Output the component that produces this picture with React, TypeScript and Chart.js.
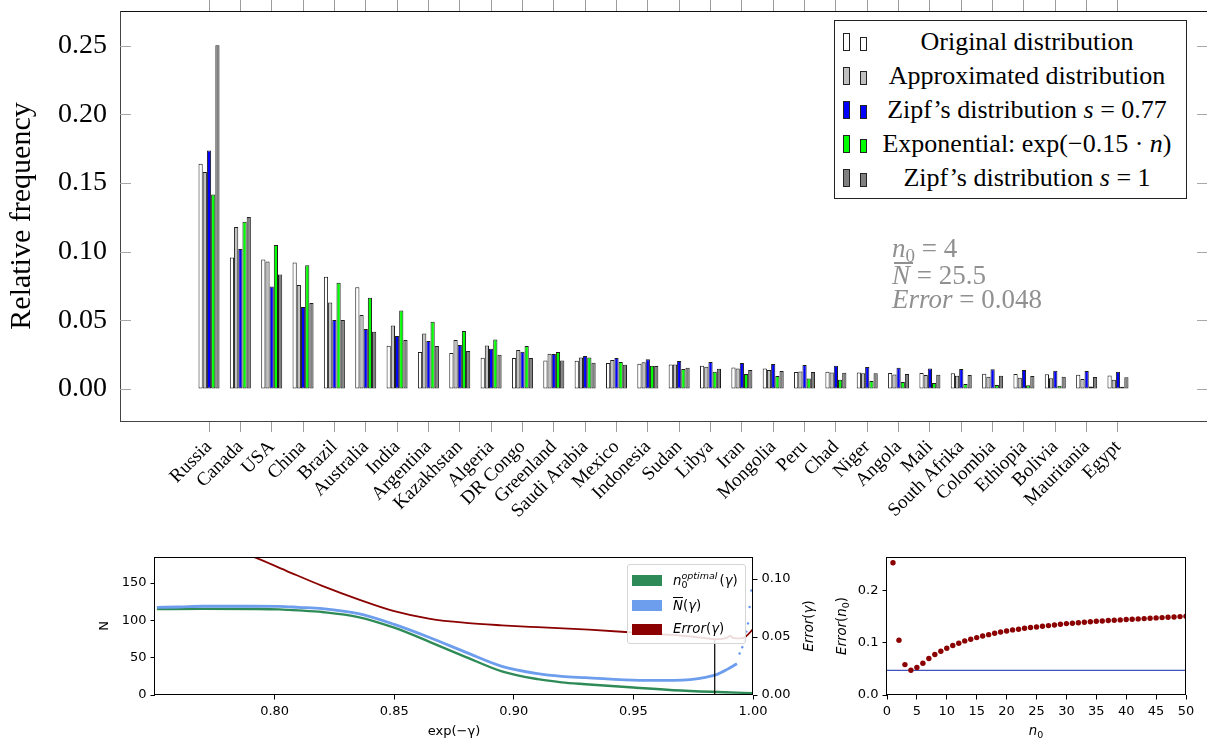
import React, { useEffect, useRef } from "react";
import { Chart, registerables } from "chart.js";

Chart.register(...registerables);

// ---------------- data: top bar chart ----------------
const countries = [
  "Russia", "Canada", "USA", "China", "Brazil", "Australia", "India", "Argentina",
  "Kazakhstan", "Algeria", "DR Congo", "Greenland", "Saudi Arabia", "Mexico",
  "Indonesia", "Sudan", "Libya", "Iran", "Mongolia", "Peru", "Chad", "Niger",
  "Angola", "Mali", "South Afrika", "Colombia", "Ethiopia", "Bolivia", "Mauritania", "Egypt",
];
const originalDist = [
  0.164, 0.0958, 0.0943, 0.0921, 0.0817, 0.0742, 0.0315, 0.0269, 0.0262, 0.0228,
  0.0226, 0.0208, 0.0206, 0.0189, 0.0184, 0.0179, 0.017, 0.0157, 0.015, 0.0124,
  0.0126, 0.0121, 0.0116, 0.0116, 0.0114, 0.0112, 0.011, 0.0107, 0.0104, 0.0099,
];
const approxDist = [
  0.158, 0.118, 0.0929, 0.0757, 0.063, 0.0539, 0.0463, 0.0405, 0.0357, 0.0317,
  0.0284, 0.0257, 0.023, 0.0211, 0.0194, 0.0179, 0.0162, 0.015, 0.0138, 0.0128,
  0.0121, 0.0114, 0.0106, 0.0102, 0.0097, 0.009, 0.0082, 0.0078, 0.0073, 0.0068,
];
const zipf077 = [
  0.1737, 0.1019, 0.0747, 0.0597, 0.0502, 0.0437, 0.0386, 0.0349, 0.032, 0.0293,
  0.0271, 0.0255, 0.024, 0.0226, 0.0216, 0.0204, 0.0196, 0.0189, 0.0182, 0.0175,
  0.017, 0.016, 0.0155, 0.015, 0.0146, 0.0143, 0.0138, 0.0133, 0.0131, 0.0126,
];
const expDist = [
  0.1417, 0.1218, 0.1048, 0.0902, 0.0774, 0.0665, 0.0572, 0.049, 0.0422, 0.0361,
  0.0313, 0.0269, 0.023, 0.0196, 0.017, 0.0146, 0.0126, 0.0109, 0.0094, 0.0077,
  0.0068, 0.0058, 0.0051, 0.0044, 0.0036, 0.0029, 0.0027, 0.0024, 0.0019, 0.0017,
];
const zipf1 = [
  0.2503, 0.1252, 0.0834, 0.0626, 0.0502, 0.0417, 0.0357, 0.0313, 0.0277, 0.025,
  0.0226, 0.0208, 0.0191, 0.0177, 0.0167, 0.0155, 0.0148, 0.0138, 0.0131, 0.0124,
  0.0119, 0.0114, 0.0109, 0.0104, 0.0102, 0.0097, 0.0095, 0.009, 0.0087, 0.0085,
];
const seriesNames = [
  "Original distribution",
  "Approximated distribution",
  "Zipf’s distribution s = 0.77",
  "Exponential: exp(−0.15 · n)",
  "Zipf’s distribution s = 1",
];
const barFills = ["#ffffff", "#c0c0c0", "#0000ff", "#00ff00", "#808080"];
const topYTicks = [0, 0.05, 0.1, 0.15, 0.2, 0.25];

// ---------------- data: bottom-left line chart ----------------
const greenGamma = [0.7508, 0.77, 0.79, 0.802, 0.81, 0.82, 0.835, 0.85, 0.865, 0.88, 0.895, 0.91, 0.92, 0.93, 0.95, 0.97, 0.988, 1.0];
const nOptimal = [115.2, 115.5, 115.3, 114.8, 113.5, 111.2, 104.5, 90.2, 71, 50.9, 31.7, 21.2, 17, 14.5, 10, 6, 3.6, 2.5];
const blueGamma = [0.7508, 0.76, 0.77, 0.78, 0.79, 0.802, 0.81, 0.82, 0.835, 0.85, 0.865, 0.88, 0.895, 0.91, 0.92, 0.93, 0.9526, 0.9667, 0.9737, 0.9807, 0.985, 0.989, 0.9933];
const nBar = [117.5, 118, 119, 119, 119, 118.8, 117.5, 115.7, 109, 94.7, 76.8, 57.2, 38.4, 28.6, 25, 23.3, 19.7, 19.7, 20.6, 24.1, 27.7, 34, 42];
const tailGamma = [0.9944, 0.9955, 0.9965, 0.9972, 0.9979, 0.9986, 0.9993, 1.0];
const nBarTail = [55.6, 64, 73.5, 85, 96, 118, 140, 181];
const errGammaX = [0.75, 0.77, 0.7899, 0.8049, 0.8199, 0.835, 0.85, 0.865, 0.88, 0.895, 0.91, 0.9314, 0.9526, 0.9737, 0.9807, 0.985, 0.989, 0.9905, 0.9919, 0.995, 0.997, 1.0];
const errGamma = [0.15, 0.134, 0.1202, 0.1071, 0.0941, 0.0825, 0.0723, 0.0657, 0.0622, 0.0601, 0.0585, 0.0564, 0.0535, 0.0505, 0.0488, 0.0481, 0.0492, 0.051, 0.049, 0.0488, 0.0505, 0.0568];
const gammaOpt = 0.984;
const errOpt = 0.048;
const gammaTicks = [0.8, 0.85, 0.9, 0.95, 1.0];
const nTicks = [0, 50, 100, 150];
const errGammaTicks = [0, 0.05, 0.1];

// ---------------- data: bottom-right scatter ----------------
const n0Values = [
  1, 2, 3, 4, 5, 6, 7, 8, 9, 10, 11, 12, 13, 14, 15, 16, 17, 18, 19, 20, 21, 22, 23, 24, 25,
  26, 27, 28, 29, 30, 31, 32, 33, 34, 35, 36, 37, 38, 39, 40, 41, 42, 43, 44, 45, 46, 47, 48, 49, 50,
];
const errN0 = [
  0.2529, 0.1048, 0.0582, 0.0473, 0.0525, 0.0607, 0.0697, 0.0774, 0.0837, 0.0895,
  0.0946, 0.099, 0.1035, 0.1066, 0.1098, 0.113, 0.1155, 0.118, 0.1206, 0.1225,
  0.1245, 0.1257, 0.1277, 0.129, 0.1302, 0.1315, 0.1328, 0.134, 0.1353, 0.1366,
  0.1374, 0.1383, 0.1392, 0.1401, 0.141, 0.1417, 0.1424, 0.143, 0.1437, 0.1443,
  0.145, 0.1456, 0.1462, 0.1469, 0.1475, 0.1481, 0.1487, 0.1493, 0.15, 0.1506,
];
const errMin = 0.0473;
const n0Ticks = [0, 5, 10, 15, 20, 25, 30, 35, 40, 45, 50];
const errN0Ticks = [0, 0.1, 0.2];

// ---------------- styling ----------------
const SERIF = "'Liberation Serif', 'Times New Roman', serif";
const SANS = "'DejaVu Sans', 'Liberation Sans', sans-serif";

const xy = (xs: number[], ys: number[]) => xs.map((x, i) => ({ x, y: ys[i] }));
const setTicks = (vals: number[]) => (s: any) => {
  s.ticks = vals.map((v) => ({ value: v }));
};

const innerTicksPlugin = {
  id: "innerTicks",
  afterDraw(chart: any) {
    const { ctx, chartArea, scales } = chart;
    ctx.save();
    ctx.strokeStyle = "#a8a8a8";
    ctx.lineWidth = 1;
    topYTicks.forEach((v) => {
      const py = Math.round(scales.y.getPixelForValue(v)) + 0.5;
      ctx.beginPath();
      ctx.moveTo(chartArea.left, py);
      ctx.lineTo(chartArea.left + 11, py);
      ctx.moveTo(chartArea.right - 10, py);
      ctx.lineTo(chartArea.right, py);
      ctx.stroke();
    });
    ctx.restore();
  },
};

const framePlugin = {
  id: "frame",
  afterDatasetsDraw(chart: any) {
    const { ctx, chartArea: a } = chart;
    ctx.save();
    ctx.strokeStyle = "#000";
    ctx.lineWidth = 1;
    ctx.strokeRect(Math.round(a.left) - 0.5, Math.round(a.top) + 0.5, Math.round(a.right - a.left), Math.round(a.bottom - a.top) - 1);
    ctx.restore();
  },
};

function topConfig(): any {
  return {
    type: "bar",
    data: {
      datasets: [originalDist, approxDist, zipf077, expDist, zipf1].map((vals, k) => ({
        label: seriesNames[k],
        data: xy(countries.map((_, i) => i), vals),
        backgroundColor: barFills[k],
        borderColor: "#1e1e1e",
        borderWidth: 1,
        borderSkipped: false,
        categoryPercentage: 0.67,
        barPercentage: 1,
      })),
    },
    options: {
      responsive: false,
      maintainAspectRatio: false,
      animation: false,
      devicePixelRatio: 1,
      events: [],
      layout: { padding: 0 },
      plugins: { legend: { display: false }, tooltip: { enabled: false } },
      scales: {
        x: {
          type: "linear",
          position: "bottom",
          min: -2.84,
          max: 31.84,
          offset: false,
          afterBuildTicks: setTicks(countries.map((_, i) => i)),
          afterFit: (s: any) => { s.height = 119; s.paddingLeft = 0; s.paddingRight = 0; },
          ticks: {
            autoSkip: false,
            minRotation: 45,
            maxRotation: 45,
            padding: 4,
            color: "#000",
            font: { family: SERIF, size: 19 },
            callback: (v: number) => countries[v],
          },
          grid: { offset: false, drawOnChartArea: false, drawTicks: true, tickLength: 11, color: "#9c9c9c" },
          border: { display: true, color: "#444", width: 1 },
        },
        xTop: {
          type: "linear",
          position: "top",
          min: -2.84,
          max: 31.84,
          offset: false,
          afterBuildTicks: setTicks(countries.map((_, i) => i)),
          afterFit: (s: any) => { s.height = 11; s.paddingLeft = 0; s.paddingRight = 0; },
          ticks: { display: false },
          grid: { offset: false, drawOnChartArea: false, drawTicks: true, tickLength: 11, color: "#9c9c9c" },
          border: { display: true, color: "#111", width: 1 },
        },
        y: {
          type: "linear",
          position: "left",
          min: -0.0233,
          max: 0.2753,
          afterBuildTicks: setTicks(topYTicks),
          afterFit: (s: any) => { s.width = 120; s.paddingTop = 0; s.paddingBottom = 0; },
          ticks: {
            padding: 13,
            color: "#000",
            font: { family: SERIF, size: 28 },
            callback: (v: number) => v.toFixed(2),
          },
          grid: { drawOnChartArea: false, drawTicks: false },
          border: { display: true, color: "#444", width: 1 },
          title: {
            display: true,
            text: "Relative frequency",
            color: "#000",
            font: { family: SERIF, size: 30 },
            padding: { top: 4, bottom: 0 },
          },
        },
      },
    },
    plugins: [innerTicksPlugin],
  };
}

const sansTick = { family: SANS, size: 13 };

function bottomLeftConfig(): any {
  return {
    type: "scatter",
    data: {
      datasets: [
        { label: "Error(γ)", data: xy(errGammaX, errGamma), yAxisID: "y2", showLine: true, borderColor: "#8b0000", borderWidth: 1.8, pointRadius: 0, cubicInterpolationMode: "monotone", order: 0 },
        { label: "optimum", data: xy([gammaOpt, gammaOpt], [0, errOpt]), yAxisID: "y2", showLine: true, borderColor: "#000", borderWidth: 1.2, pointRadius: 0, order: 1 },
        { label: "N̄(γ) tail", data: xy(tailGamma, nBarTail), yAxisID: "y", showLine: false, pointRadius: 1.2, backgroundColor: "#6495ed", borderWidth: 0, order: 2 },
        { label: "N̄(γ)", data: xy(blueGamma, nBar), yAxisID: "y", showLine: true, borderColor: "#6d9ded", borderWidth: 2.8, pointRadius: 0, cubicInterpolationMode: "monotone", order: 3 },
        { label: "n0 optimal(γ)", data: xy(greenGamma, nOptimal), yAxisID: "y", showLine: true, borderColor: "#2e8b57", borderWidth: 2.4, pointRadius: 0, cubicInterpolationMode: "monotone", order: 4 },
      ],
    },
    options: {
      responsive: false,
      maintainAspectRatio: false,
      animation: false,
      devicePixelRatio: 1,
      events: [],
      layout: { padding: { top: 12, left: 0, right: 0, bottom: 0 } },
      plugins: { legend: { display: false }, tooltip: { enabled: false } },
      scales: {
        x: {
          type: "linear",
          min: 0.75,
          max: 1.0,
          afterBuildTicks: setTicks(gammaTicks),
          afterFit: (s: any) => { s.height = 45; },
          ticks: { padding: 4, color: "#000", font: sansTick, callback: (v: number) => v.toFixed(2) },
          grid: { drawOnChartArea: false, tickLength: 4.5, color: "#000" },
          border: { display: false },
          title: { display: true, text: "exp(−γ)", color: "#000", font: { family: SANS, size: 13 }, padding: { top: 0, bottom: 1 } },
        },
        y: {
          type: "linear",
          position: "left",
          min: 0,
          max: 185,
          afterBuildTicks: setTicks(nTicks),
          afterFit: (s: any) => { s.width = 75; },
          ticks: { padding: 4, color: "#000", font: sansTick, callback: (v: number) => String(v) },
          grid: { drawOnChartArea: false, tickLength: 4.5, color: "#000" },
          border: { display: false },
          title: { display: true, text: "N", color: "#000", font: { family: SANS, size: 13 }, padding: { top: 17, bottom: 0 } },
        },
        y2: {
          type: "linear",
          position: "right",
          min: 0,
          max: 0.119,
          afterBuildTicks: setTicks(errGammaTicks),
          afterFit: (s: any) => { s.width = 77; },
          ticks: { padding: 4, color: "#000", font: sansTick, callback: (v: number) => v.toFixed(2) },
          grid: { drawOnChartArea: false, tickLength: 4.5, color: "#000" },
          border: { display: false },
        },
      },
    },
    plugins: [framePlugin],
  };
}

function bottomRightConfig(): any {
  return {
    type: "scatter",
    data: {
      datasets: [
        { label: "Error(n0)", data: xy(n0Values, errN0), pointRadius: 2.7, backgroundColor: "#8b0000", borderWidth: 0, order: 0 },
        { label: "minimum", data: xy([0, 50], [errMin, errMin]), showLine: true, borderColor: "#4152bf", borderWidth: 1.3, pointRadius: 0, order: 1 },
      ],
    },
    options: {
      responsive: false,
      maintainAspectRatio: false,
      animation: false,
      devicePixelRatio: 1,
      events: [],
      layout: { padding: { top: 12, left: 0, right: 21, bottom: 0 } },
      plugins: { legend: { display: false }, tooltip: { enabled: false } },
      scales: {
        x: {
          type: "linear",
          min: 0,
          max: 50,
          afterBuildTicks: setTicks(n0Ticks),
          afterFit: (s: any) => { s.height = 45; },
          ticks: { padding: 4, color: "#000", font: sansTick, callback: (v: number) => String(v) },
          grid: { drawOnChartArea: false, tickLength: 4.5, color: "#000" },
          border: { display: false },
        },
        y: {
          type: "linear",
          min: 0,
          max: 0.264,
          afterBuildTicks: setTicks(errN0Ticks),
          afterFit: (s: any) => { s.width = 57; },
          ticks: { padding: 4, color: "#000", font: sansTick, callback: (v: number) => v.toFixed(1) },
          grid: { drawOnChartArea: false, tickLength: 4.5, color: "#000" },
          border: { display: false },
        },
      },
    },
    plugins: [framePlugin],
  };
}

function ChartBox({ make, left, top, width, height }: any) {
  const ref = useRef<HTMLCanvasElement>(null);
  useEffect(() => {
    const chart = new Chart(ref.current as HTMLCanvasElement, make());
    return () => chart.destroy();
  }, []);
  return (
    <canvas
      ref={ref}
      width={width}
      height={height}
      style={{ position: "absolute", left, top, width, height, display: "block" }}
    />
  );
}

const legendNodes = [
  <>Original distribution</>,
  <>Approximated distribution</>,
  <>Zipf’s distribution <i>s</i> = 0.77</>,
  <>Exponential: exp(−0.15 · <i>n</i>)</>,
  <>Zipf’s distribution <i>s</i> = 1</>,
];

const rot = (x: number, y: number): any => ({
  position: "absolute",
  left: x,
  top: y,
  transform: "translate(-50%, -50%) rotate(-90deg)",
  whiteSpace: "nowrap",
  fontFamily: SANS,
  fontSize: 13.3,
  lineHeight: "16px",
  color: "#000",
});

const ANNOT = "#909090";

export default function App() {
  const blLegend = [
    { color: "#2e8b57", cy: 580.5 },
    { color: "#6d9ded", cy: 605.7 },
    { color: "#8b0000", cy: 629.3 },
  ];
  return (
    <div style={{ position: "absolute", left: 0, top: 0, width: 1207, height: 740, overflow: "hidden", background: "#fff" }}>
      <ChartBox make={topConfig} left={0} top={0} width={1207} height={540} />
      <ChartBox make={bottomLeftConfig} left={80} top={545} width={750} height={195} />
      <ChartBox make={bottomRightConfig} left={830} top={545} width={377} height={195} />

      {/* top legend */}
      <div style={{ position: "absolute", left: 834, top: 20, width: 351, height: 177, border: "1px solid #222", background: "#fff" }}>
        {legendNodes.map((node, k) => {
          const cy = 42 + 34 * k - 21;
          return (
            <React.Fragment key={k}>
              <div style={{ position: "absolute", left: 8, top: cy - 9, width: 7, height: 18, boxSizing: "border-box", border: "1px solid #222", background: barFills[k] }} />
              <div style={{ position: "absolute", left: 25, top: cy - 5, width: 7, height: 14, boxSizing: "border-box", border: "1px solid #222", background: barFills[k] }} />
              <div style={{ position: "absolute", left: 37, width: 310, top: cy - 15, height: 30, lineHeight: "30px", textAlign: "center", fontFamily: SERIF, fontSize: 26, color: "#000", whiteSpace: "nowrap" }}>
                {node}
              </div>
            </React.Fragment>
          );
        })}
      </div>

      {/* top annotation */}
      <div style={{ position: "absolute", left: 892, top: 236, fontFamily: SERIF, fontSize: 27, lineHeight: "24px", color: ANNOT, whiteSpace: "nowrap" }}>
        <div><i>n</i><span style={{ fontSize: 19, position: "relative", top: 5 }}>0</span> = 4</div>
        <div><i>N</i> = 25.5</div>
        <div><i>Error</i> = 0.048</div>
      </div>
      <div style={{ position: "absolute", left: 894, top: 262, width: 19, height: 1.5, background: ANNOT }} />

      {/* bottom-left legend */}
      <div style={{ position: "absolute", left: 627, top: 564, width: 117, height: 78, border: "1px solid #d6d6d6", borderRadius: 3, background: "rgba(255,255,255,0.85)" }} />
      {blLegend.map((r, k) => (
        <div key={k} style={{ position: "absolute", left: 632, top: r.cy - 5.25, width: 30, height: 10.5, background: r.color }} />
      ))}
      <div style={{ position: "absolute", left: 673, top: 572.5, height: 16, fontFamily: SANS, fontSize: 13.3, lineHeight: "16px", whiteSpace: "nowrap", color: "#000" }}>
        <i>n</i>
        <span style={{ display: "inline-block", position: "relative", width: 38, height: 16, verticalAlign: "top" }}>
          <i style={{ position: "absolute", left: 0, top: -1.5, fontSize: 9.5, lineHeight: "10px" }}>optimal</i>
          <span style={{ position: "absolute", left: 0, top: 7.5, fontSize: 9.5, lineHeight: "10px" }}>0</span>
        </span>
        (<i>γ</i>)
      </div>
      <div style={{ position: "absolute", left: 673, top: 597.7, height: 16, fontFamily: SANS, fontSize: 13.3, lineHeight: "16px", whiteSpace: "nowrap", color: "#000" }}>
        <i style={{ textDecoration: "overline" }}>N</i>(<i>γ</i>)
      </div>
      <div style={{ position: "absolute", left: 673, top: 621.3, height: 16, fontFamily: SANS, fontSize: 13.3, lineHeight: "16px", whiteSpace: "nowrap", color: "#000" }}>
        <i>Error</i>(<i>γ</i>)
      </div>

      {/* axis titles with math */}
      <div style={rot(809, 626)}><i>Error</i>(<i>γ</i>)</div>
      <div style={rot(842, 626)}><i>Error</i>(<i>n</i><span style={{ fontSize: 9.5, position: "relative", top: 3 }}>0</span>)</div>
      <div style={{ position: "absolute", left: 1036, top: 731, transform: "translate(-50%, -50%)", fontFamily: SANS, fontSize: 13.3, lineHeight: "16px", whiteSpace: "nowrap" }}>
        <i>n</i><span style={{ fontSize: 9.5, position: "relative", top: 3 }}>0</span>
      </div>
    </div>
  );
}
